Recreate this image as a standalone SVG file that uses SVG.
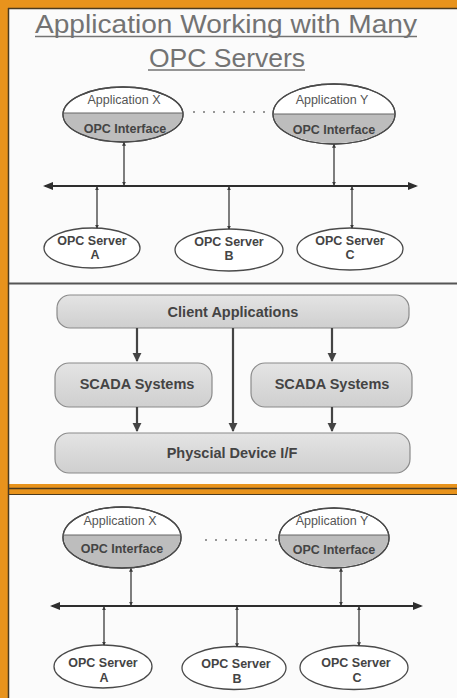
<svg xmlns="http://www.w3.org/2000/svg" width="457" height="698" viewBox="0 0 457 698">
  <style>
    .title { font-family: "Liberation Sans", Arial, sans-serif; font-size: 26.5px; fill: #737373; text-anchor: middle; }
    .lbl { font-family: "Liberation Sans", Arial, sans-serif; font-size: 12.5px; fill: #555; text-anchor: middle; }
    .blbl { font-family: "Liberation Sans", Arial, sans-serif; font-size: 12.5px; font-weight: bold; fill: #444; text-anchor: middle; }
    .box { font-family: "Liberation Sans", Arial, sans-serif; font-size: 14.5px; font-weight: bold; fill: #444; text-anchor: middle; }
    .ell { fill: #ffffff; stroke: #4a4a4a; stroke-width: 1.3; }
    .half { fill: #bdbdbd; }
    .sep { stroke: #666; stroke-width: 1.2; }
    .thin { stroke: #3a3a3a; stroke-width: 1.3; fill: none; marker-start: url(#tip); marker-end: url(#tip); }
    .bus { stroke: #2e2e2e; stroke-width: 2.2; fill: none; marker-start: url(#bustip); marker-end: url(#bustip); }
    .dots { stroke: #777; stroke-width: 1.3; stroke-dasharray: 2 8; fill: none; }
    .rbox { fill: url(#boxfill); stroke: #8a8a8a; stroke-width: 1.2; }
    .flow { stroke: #444; stroke-width: 2.2; fill: none; marker-end: url(#head); }
  </style>
  <defs>
    <marker id="tip" viewBox="0 0 6 6" refX="5" refY="3" markerWidth="4" markerHeight="4" markerUnits="userSpaceOnUse" orient="auto-start-reverse">
      <path d="M0,0 L6,3 L0,6 z" fill="#3a3a3a"/>
    </marker>
    <marker id="bustip" viewBox="0 0 10 8" refX="8" refY="4" markerWidth="10" markerHeight="8" markerUnits="userSpaceOnUse" orient="auto-start-reverse">
      <path d="M0,0 L10,4 L0,8 z" fill="#2e2e2e"/>
    </marker>
    <marker id="head" viewBox="0 0 10 10" refX="9" refY="5" markerWidth="9" markerHeight="10" markerUnits="userSpaceOnUse" orient="auto">
      <path d="M0,0 L10,5 L0,10 z" fill="#444"/>
    </marker>
    <linearGradient id="boxfill" x1="0" y1="0" x2="0" y2="1">
      <stop offset="0" stop-color="#e4e4e4"/>
      <stop offset="1" stop-color="#cfcfcf"/>
    </linearGradient>
    <clipPath id="lowX1"><rect x="50" y="113" width="150" height="40"/></clipPath>
    <clipPath id="lowY1"><rect x="260" y="114" width="150" height="40"/></clipPath>
    <clipPath id="lowX3"><rect x="50" y="535" width="150" height="40"/></clipPath>
    <clipPath id="lowY3"><rect x="260" y="535" width="150" height="40"/></clipPath>
  </defs>

  <!-- frame and panel backgrounds -->
  <rect x="0" y="0" width="457" height="698" fill="#e8931c"/>
  <rect x="9" y="9" width="448" height="475" fill="#fbfbfb"/>
  <rect x="9" y="495" width="448" height="203" fill="#fbfbfb"/>
  <line x1="8.5" y1="8" x2="8.5" y2="698" stroke="#4a3a20" stroke-width="1.5"/>
  <line x1="8" y1="8.5" x2="457" y2="8.5" stroke="#4a3a20" stroke-width="1.5"/>
  <line x1="9" y1="283.5" x2="457" y2="283.5" stroke="#555" stroke-width="2"/>
  <line x1="9" y1="488.5" x2="457" y2="488.5" stroke="#4a3a20" stroke-width="1.5"/>
  <line x1="9" y1="494.5" x2="457" y2="494.5" stroke="#4a3a20" stroke-width="1"/>

  <!-- title -->
  <g id="title">
    <text class="title" x="226" y="33" textLength="382" lengthAdjust="spacingAndGlyphs">Application Working with Many</text>
    <line x1="35" y1="36.5" x2="417" y2="36.5" stroke="#737373" stroke-width="1.3"/>
    <text class="title" x="227" y="67">OPC Servers</text>
    <line x1="148" y1="70" x2="305" y2="70" stroke="#737373" stroke-width="1.3"/>
  </g>

  <!-- ===== upper panel: applications on a shared bus ===== -->
  <g id="appX-top">
    <ellipse class="ell" cx="123" cy="114.5" rx="60" ry="27.5"/>
    <ellipse class="half" cx="123" cy="114.5" rx="59.3" ry="26.8" clip-path="url(#lowX1)"/>
    <ellipse cx="123" cy="114.5" rx="60" ry="27.5" fill="none" stroke="#4a4a4a" stroke-width="1.3"/>
    <line class="sep" x1="63.5" y1="113" x2="182.5" y2="113"/>
    <text class="lbl" x="124" y="104">Application X</text>
    <text class="blbl" x="125" y="133">OPC Interface</text>
  </g>
  <g id="appY-top">
    <ellipse class="ell" cx="334" cy="114" rx="61" ry="30"/>
    <ellipse class="half" cx="334" cy="114" rx="60.3" ry="29.3" clip-path="url(#lowY1)"/>
    <ellipse cx="334" cy="114" rx="61" ry="30" fill="none" stroke="#4a4a4a" stroke-width="1.3"/>
    <line class="sep" x1="273" y1="114" x2="395" y2="114"/>
    <text class="lbl" x="332" y="104">Application Y</text>
    <text class="blbl" x="334" y="134">OPC Interface</text>
  </g>
  <g id="srvA-top">
    <ellipse class="ell" cx="92" cy="248" rx="48" ry="20"/>
    <text class="blbl" x="92" y="245">OPC Server</text>
    <text class="blbl" x="95" y="259">A</text>
  </g>
  <g id="srvB-top">
    <ellipse class="ell" cx="229" cy="250" rx="54" ry="21"/>
    <text class="blbl" x="229" y="246">OPC Server</text>
    <text class="blbl" x="229" y="260">B</text>
  </g>
  <g id="srvC-top">
    <ellipse class="ell" cx="350" cy="249" rx="53" ry="21"/>
    <text class="blbl" x="350" y="245">OPC Server</text>
    <text class="blbl" x="350" y="259">C</text>
  </g>
  <g id="links-top">
    <line class="dots" x1="193" y1="112" x2="270" y2="112"/>
    <line class="bus" x1="45" y1="186" x2="416" y2="186"/>
    <line class="thin" x1="124" y1="142.5" x2="124" y2="185"/>
    <line class="thin" x1="334" y1="144.5" x2="334" y2="185"/>
    <line class="thin" x1="97" y1="187" x2="97" y2="228"/>
    <line class="thin" x1="229" y1="187" x2="229" y2="229"/>
    <line class="thin" x1="352" y1="187" x2="352" y2="228"/>
  </g>

  <!-- ===== middle panel: layered flow ===== -->
  <g id="client">
    <rect class="rbox" x="57" y="295" width="352" height="33" rx="13"/>
    <text class="box" x="233" y="317">Client Applications</text>
  </g>
  <g id="scadaL">
    <rect class="rbox" x="55" y="363" width="157" height="44" rx="14"/>
    <text class="box" x="137" y="389">SCADA Systems</text>
  </g>
  <g id="scadaR">
    <rect class="rbox" x="251" y="363" width="161" height="44" rx="14"/>
    <text class="box" x="332" y="389">SCADA Systems</text>
  </g>
  <g id="device">
    <rect class="rbox" x="55" y="433" width="355" height="40" rx="14"/>
    <text class="box" x="232" y="458">Physcial Device I/F</text>
  </g>
  <g id="links-mid">
    <line class="flow" x1="137" y1="328" x2="137" y2="361"/>
    <line class="flow" x1="332" y1="328" x2="332" y2="361"/>
    <line class="flow" x1="233" y1="328" x2="233" y2="431"/>
    <line class="flow" x1="137" y1="407" x2="137" y2="431"/>
    <line class="flow" x1="332" y1="407" x2="332" y2="431"/>
  </g>

  <!-- ===== lower panel: applications on a shared bus ===== -->
  <g id="appX-bottom">
    <ellipse class="ell" cx="122" cy="537.5" rx="59" ry="30.5"/>
    <ellipse class="half" cx="122" cy="537.5" rx="58.3" ry="29.8" clip-path="url(#lowX3)"/>
    <ellipse cx="122" cy="537.5" rx="59" ry="30.5" fill="none" stroke="#4a4a4a" stroke-width="1.3"/>
    <line class="sep" x1="63" y1="535" x2="181" y2="535"/>
    <text class="lbl" x="120" y="525">Application X</text>
    <text class="blbl" x="122" y="553">OPC Interface</text>
  </g>
  <g id="appY-bottom">
    <ellipse class="ell" cx="334" cy="538" rx="55" ry="30"/>
    <ellipse class="half" cx="334" cy="538" rx="54.3" ry="29.3" clip-path="url(#lowY3)"/>
    <ellipse cx="334" cy="538" rx="55" ry="30" fill="none" stroke="#4a4a4a" stroke-width="1.3"/>
    <line class="sep" x1="280" y1="535" x2="388" y2="535"/>
    <text class="lbl" x="332" y="525">Application Y</text>
    <text class="blbl" x="334" y="554">OPC Interface</text>
  </g>
  <g id="srvA-bottom">
    <ellipse class="ell" cx="103" cy="666.5" rx="49" ry="21.5"/>
    <text class="blbl" x="103" y="667">OPC Server</text>
    <text class="blbl" x="104" y="682">A</text>
  </g>
  <g id="srvB-bottom">
    <ellipse class="ell" cx="234" cy="668" rx="52" ry="21.5"/>
    <text class="blbl" x="236" y="668">OPC Server</text>
    <text class="blbl" x="237" y="683">B</text>
  </g>
  <g id="srvC-bottom">
    <ellipse class="ell" cx="354" cy="667.5" rx="54" ry="22"/>
    <text class="blbl" x="356" y="667">OPC Server</text>
    <text class="blbl" x="357" y="682">C</text>
  </g>
  <g id="links-bottom">
    <line class="dots" x1="205" y1="540" x2="278" y2="540"/>
    <line class="bus" x1="52" y1="606" x2="421" y2="606"/>
    <line class="thin" x1="131" y1="568.5" x2="131" y2="605"/>
    <line class="thin" x1="341" y1="568.5" x2="341" y2="605"/>
    <line class="thin" x1="104" y1="607" x2="104" y2="645"/>
    <line class="thin" x1="237" y1="607" x2="237" y2="646.5"/>
    <line class="thin" x1="359" y1="607" x2="359" y2="645.5"/>
  </g>
</svg>
